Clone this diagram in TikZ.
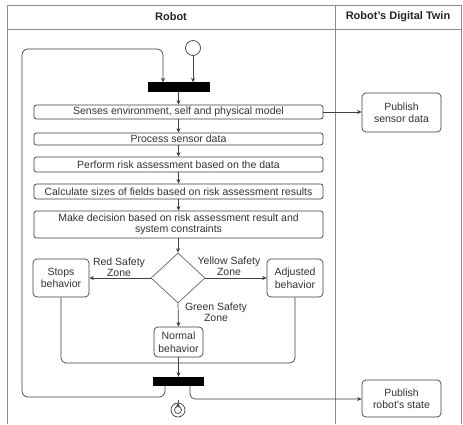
\documentclass[tikz,border=0pt]{standalone}
\usepackage{fontspec}
\setmainfont{Liberation Sans}
\usetikzlibrary{shapes.geometric,arrows.meta}
\begin{document}
\begin{tikzpicture}[x=1pt,y=-1pt,
  line/.style={draw=black!75,line width=0.7pt},
  flow/.style={line,-{Stealth[length=4.5pt,width=4pt]}},
  act/.style={draw=black!75,line width=0.7pt,rounded corners=2.5pt,minimum width=289pt,inner sep=1pt,align=center,font=\fontsize{10.5}{11.5}\selectfont,text=black!80},
  beh/.style={draw=black!75,line width=0.7pt,rounded corners=4pt,inner sep=1pt,align=center,font=\fontsize{10.5}{12.5}\selectfont,text=black!80},
  bar/.style={fill=black,draw=black,inner sep=0pt},
  lbl/.style={align=center,font=\fontsize{10.5}{11.5}\selectfont,text=black!80,inner sep=0pt},
  hdr/.style={font=\bfseries\fontsize{11}{13}\selectfont,text=black!85}
]
\useasboundingbox (0,0) rectangle (463,424);
\fill[white] (0,0) rectangle (463,424);

% swimlane frame
\draw[draw=black!45,line width=0.7pt] (7,424) -- (7,5) -- (461,5) -- (461,424);
\draw[draw=black!45,line width=0.7pt] (7,29) -- (461,29);
\draw[draw=black!45,line width=0.7pt] (335,5) -- (335,424);
\node[hdr] (h1) at (171,17) {Robot};
\node[hdr] (h2) at (398,17) {Robot's Digital Twin};

% start, fork
\node[circle,draw=black!75,line width=0.7pt,minimum size=15pt,inner sep=0pt] (start) at (193,48) {};
\node[bar,minimum width=61pt,minimum height=9pt] (fork) at (179,87) {};

% sequential actions
\node[act,minimum height=14pt] (a1) at (178.5,112) {Senses environment, self and physical model};
\node[act,minimum height=12pt] (a2) at (178.5,139) {Process sensor data};
\node[act,minimum height=15pt] (a3) at (178.5,164.5) {Perform risk assessment based on the data};
\node[act,minimum height=15pt] (a4) at (178.5,191.5) {Calculate sizes of fields based on risk assessment results};
\node[act,minimum height=27pt] (a5) at (178.5,224.5) {Make decision based on risk assessment result and\\system constraints};

% digital twin actions
\node[beh,minimum width=79pt,minimum height=39pt] (pub1) at (401.5,112.5) {Publish\\sensor data};
\node[beh,minimum width=79pt,minimum height=37pt] (pub2) at (401.5,398.5) {Publish\\robot's state};

% decision and behaviours
\node[diamond,draw=black!60,line width=0.7pt,minimum width=54pt,minimum height=50pt,inner sep=0pt] (dec) at (178,278) {};
\node[beh,minimum width=56pt,minimum height=38pt] (stop) at (61,278) {Stops\\behavior};
\node[beh,minimum width=56pt,minimum height=38pt] (adj) at (295,278) {Adjusted\\behavior};
\node[beh,minimum width=49pt,minimum height=30pt] (norm) at (178.5,342) {Normal\\behavior};

% join and final node
\node[bar,minimum width=50pt,minimum height=8pt] (join) at (178,381) {};
\node[circle,draw=black!75,line width=0.7pt,minimum size=14pt,inner sep=0pt] (end) at (178,410) {};
\node[circle,draw=black!75,line width=0.7pt,minimum size=7pt,inner sep=0pt] (endin) at (end) {};
\coordinate (mrg) at (178,363);

% connectors
\draw[flow] (start) -- (start |- fork.north);
\draw[flow,rounded corners=6pt] (join.south -| 165,0) -- (165,397) -- (22,397) -- (22,49) -- (163,49) -- (fork.north -| 163,0);
\draw[flow] (fork.south -| a1) -- (a1.north);
\draw[flow] (a1) -- (a2);
\draw[flow] (a2) -- (a3);
\draw[flow] (a3) -- (a4);
\draw[flow] (a4) -- (a5);
\draw[flow] (a1.east) -- (pub1.west |- a1.east);
\draw[flow] (a5.south -| dec) -- (dec.north);

\draw[flow] (dec.west) -- (stop.east);
\draw[flow] (dec.east) -- (adj.west);
\draw[flow] (dec.south) -- (norm.north);
\node[lbl] (lr) at (119,267) {Red Safety\\Zone};
\node[lbl] (ly) at (229,266) {Yellow Safety\\Zone};
\node[lbl] (lg) at (216,312) {Green Safety\\Zone};

\draw[line,rounded corners=5pt] (stop.south) -- (stop.south |- mrg) -- (mrg);
\draw[line,rounded corners=5pt] (adj.south) -- (adj.south |- mrg) -- (mrg);
\draw[flow] (norm.south) -- (norm.south |- join.north);
\draw[flow] (end.north -| join.south) -- (end.north);
\draw[flow,rounded corners=5pt] (join.south -| 190,0) -- (190,399) -- (pub2.west |- 0,399);
\end{tikzpicture}
\end{document}
